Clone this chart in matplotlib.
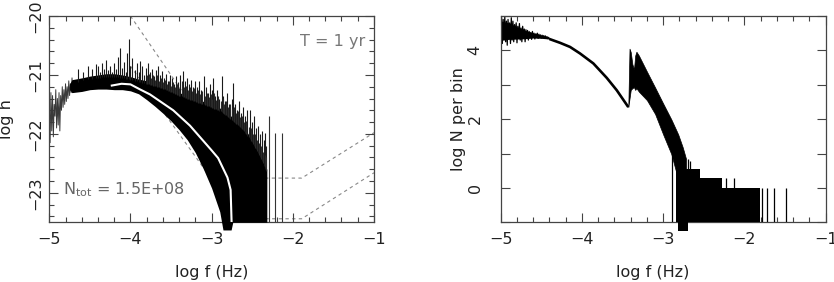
import numpy as np
import matplotlib
matplotlib.use("Agg")
import matplotlib.pyplot as plt
from matplotlib.ticker import MultipleLocator

# ---------------- left panel data: log h vs log f ----------------
zig_f = [-5.00, -4.99, -4.98, -4.97, -4.96, -4.95, -4.94, -4.93, -4.92, -4.91, -4.90,
         -4.89, -4.88, -4.87, -4.86, -4.85, -4.84, -4.83, -4.82, -4.81, -4.80, -4.79,
         -4.78, -4.77, -4.76, -4.75, -4.74, -4.73, -4.72, -4.71, -4.70]
zig_h = [-21.45, -22.15, -21.3, -21.95, -21.35, -22.05, -21.5, -21.7, -21.25, -21.9, -21.4,
         -21.85, -21.3, -21.95, -21.35, -21.6, -21.2, -21.55, -21.25, -21.5, -21.15, -21.45,
         -21.2, -21.4, -21.1, -21.35, -21.15, -21.3, -21.05, -21.3, -21.1]

band_f = [-4.75, -4.72, -4.6, -4.5, -4.4, -4.3, -4.2, -4.1, -4.0, -3.9, -3.8, -3.7, -3.6, -3.5,
          -3.4, -3.3, -3.2, -3.1, -3.0, -2.9, -2.86, -2.8, -2.76, -2.74, -2.6, -2.5, -2.4, -2.32]
band_lo = [-21.25, -21.3, -21.28, -21.25, -21.24, -21.24, -21.25, -21.25, -21.27, -21.32, -21.42,
           -21.53, -21.65, -21.78, -21.93, -22.10, -22.32, -22.6, -22.92, -23.32, -23.63,
           -23.63, -23.63, -23.5, -23.5, -23.5, -23.5, -23.5]
band_hi = [-21.15, -21.08, -21.05, -21.02, -21.0, -20.98, -20.98, -21.0, -21.03, -21.07, -21.1,
           -21.14, -21.18, -21.24, -21.3, -21.35, -21.4, -21.45, -21.5, -21.56, -21.6,
           -21.65, -21.7, -21.72, -21.9, -22.1, -22.35, -22.6]

spike_f = [-4.65, -4.58, -4.52, -4.47, -4.43,
           -4.40, -4.375, -4.35, -4.325, -4.30, -4.275, -4.25, -4.225, -4.20, -4.175,
           -4.15, -4.125, -4.10, -4.075, -4.05, -4.04, -4.015, -4.00, -3.975, -3.95,
           -3.925, -3.90, -3.883, -3.86, -3.835, -3.81, -3.785, -3.76, -3.735, -3.71,
           -3.685, -3.66, -3.635, -3.61, -3.585, -3.56, -3.535, -3.51, -3.49, -3.465,
           -3.44, -3.415, -3.39, -3.35, -3.325, -3.30, -3.275, -3.25, -3.225, -3.20,
           -3.175, -3.15, -3.125, -3.10, -3.075, -3.05, -3.025, -3.00, -2.98, -2.955,
           -2.93, -2.905, -2.877, -2.855, -2.83, -2.805, -2.78, -2.755, -2.734, -2.71,
           -2.685, -2.66, -2.635, -2.61, -2.585, -2.56, -2.53, -2.505, -2.48, -2.455,
           -2.43, -2.405, -2.38, -2.355, -2.34, -2.325]
spike_h = [-20.9, -20.95, -20.85, -20.9, -20.82,
           -20.85, -20.95, -20.80, -20.90, -20.74, -20.92, -20.85, -20.95, -20.80, -20.90,
           -20.70, -20.54, -20.88, -20.78, -20.95, -20.62, -20.39, -20.85, -20.72, -20.92,
           -20.80, -20.95, -20.76, -20.85, -21.0, -20.88, -20.80, -20.95, -20.90, -21.02,
           -20.92, -20.85, -21.0, -20.93, -21.05, -20.98, -21.1, -21.0, -21.05, -21.15,
           -21.02, -21.12, -21.0, -20.93, -21.1, -21.05, -21.15, -21.08, -21.2, -21.1,
           -21.2, -21.1, -21.25, -21.02, -21.2, -21.3, -21.15, -21.25, -21.05, -21.35,
           -21.25, -21.4, -21.02, -21.35, -21.45, -21.3, -21.5, -21.4, -21.13, -21.5,
           -21.6, -21.45, -21.65, -21.55, -21.7, -21.6, -21.59, -21.8, -21.7, -21.9,
           -21.87, -22.0, -21.95, -22.1, -21.98, -22.2]

spike2_f = [-3.80, -3.7725, -3.7475, -3.7225, -3.6975, -3.6725, -3.6475, -3.6225, -3.5975,
            -3.5725, -3.5475, -3.5225, -3.50, -3.4775, -3.4525, -3.4275, -3.40, -3.37,
            -3.3375, -3.3125, -3.2875, -3.2625, -3.2375, -3.2125, -3.1875, -3.1625,
            -3.1375, -3.1125, -3.0875, -3.0625, -3.0375, -3.0125, -2.99, -2.9675, -2.9425,
            -2.9175, -2.89, -2.866, -2.8425, -2.8175, -2.7925, -2.7675, -2.745, -2.72,
            -2.6975, -2.6725, -2.6475, -2.6225, -2.5975, -2.5725, -2.545, -2.5175,
            -2.4925, -2.4675, -2.4425, -2.4175, -2.3925, -2.3675, -2.347, -2.333]
spike2_h = [-21.0, -20.98, -21.05, -21.0, -21.08, -21.0, -21.1, -21.05, -21.12,
            -21.08, -21.15, -21.1, -21.18, -21.12, -21.2, -21.15, -21.22, -21.1,
            -21.2, -21.18, -21.25, -21.2, -21.28, -21.22, -21.3, -21.25,
            -21.32, -21.28, -21.35, -21.3, -21.38, -21.32, -21.4, -21.3, -21.42,
            -21.36, -21.45, -21.4, -21.5, -21.44, -21.55, -21.5, -21.58, -21.55,
            -21.65, -21.62, -21.72, -21.7, -21.8, -21.78, -21.88, -21.9,
            -22.0, -22.0, -22.1, -22.15, -22.2, -22.3, -22.35, -22.4]

lone_f = [-2.29, -2.22, -2.13]
lone_h = [-21.7, -21.98, -21.98]

mean_f = [-4.23, -4.11, -4.0, -3.883, -3.76, -3.473, -3.267, -3.0, -2.92, -2.805, -2.766, -2.754]
mean_h = [-21.18, -21.15, -21.16, -21.245, -21.33, -21.6, -21.86, -22.28, -22.41, -22.74, -22.95, -23.5]

sens1_f = [-4.0, -2.63, -1.89, -1.0]
sens1_h = [-20.0, -22.75, -22.75, -21.98]
sens2_f = [-4.0, -2.65, -1.89, -1.0]
sens2_h = [-20.85, -23.44, -23.44, -22.66]

# ---------------- right panel data: log N per bin vs log f ----------------
nz_f = [-5.00, -4.99, -4.98, -4.97, -4.96, -4.95, -4.94, -4.93, -4.92, -4.91, -4.90,
        -4.89, -4.88, -4.87, -4.86, -4.85, -4.84, -4.83, -4.82, -4.81, -4.80, -4.79,
        -4.78, -4.77, -4.76, -4.75, -4.74, -4.73, -4.72, -4.71, -4.70, -4.69, -4.68,
        -4.67, -4.66, -4.65, -4.64, -4.63, -4.62, -4.61, -4.60, -4.59, -4.58, -4.57,
        -4.56, -4.55, -4.54, -4.53, -4.52, -4.51, -4.50, -4.49, -4.48, -4.47, -4.46,
        -4.45, -4.44, -4.43, -4.42, -4.41, -4.40]
nz_n = [4.1, 4.95, 4.2, 4.9, 4.3, 4.98, 4.25, 4.85, 4.15, 4.9, 4.35,
        4.8, 4.2, 4.95, 4.3, 4.85, 4.25, 4.75, 4.4, 4.8, 4.22, 4.7,
        4.35, 4.78, 4.3, 4.65, 4.25, 4.7, 4.4, 4.62, 4.25, 4.6, 4.35,
        4.58, 4.3, 4.55, 4.4, 4.52, 4.32, 4.55, 4.38, 4.5, 4.33, 4.48,
        4.4, 4.5, 4.35, 4.47, 4.38, 4.45, 4.36, 4.44, 4.37, 4.43, 4.35,
        4.42, 4.36, 4.4, 4.34, 4.38, 4.33]
core_f = [-5.0, -4.9, -4.8, -4.7, -4.6, -4.5, -4.4]
core_lo = [4.3, 4.32, 4.33, 4.34, 4.36, 4.35, 4.33]
core_hi = [4.85, 4.8, 4.68, 4.58, 4.5, 4.43, 4.36]

sm_f = [-4.40, -4.27, -4.147, -4.024, -3.86, -3.695, -3.572, -3.45, -3.43]
sm_n = [4.33, 4.22, 4.10, 3.91, 3.62, 3.2, 2.84, 2.42, 2.35]

nb_f = [-3.43, -3.415, -3.40, -3.38, -3.36, -3.345, -3.33, -3.30, -3.20, -3.10, -3.00,
        -2.90, -2.834, -2.815, -2.76, -2.72]
nb_hi = [2.35, 4.05, 3.95, 3.6, 3.45, 3.85, 3.96, 3.85, 3.38, 2.92, 2.45,
         1.99, 1.65, 1.55, 1.18, 0.85]
nb_lo = [2.35, 2.6, 2.85, 2.9, 2.93, 2.85, 2.9, 2.8, 2.55, 2.15, 1.55,
         0.98, 0.40, -0.18, -0.5, -0.5]

floor_f = [-2.84, -2.65, -2.55, -2.28, -1.81]
floor_top = [0.55, 0.55, 0.30, 0.0, 0.0]
deep_f = [-2.814, -2.69]
deep_bottom = [-1.25, -1.25]

nl_f = [-2.888, -2.69, -2.675, -2.227, -2.13, -1.79, -1.726, -1.636, -1.49]
nl_top = [1.0, 0.85, 0.78, 0.30, 0.30, 0.0, 0.0, 0.0, 0.0]

# ---------------- figure ----------------
plt.rcParams["font.family"] = ["DejaVu Sans"]
FS = 11.5
TXT = "#222222"
SP = "#444444"

fig = plt.figure(figsize=(8.34, 2.82), dpi=100)
axL = fig.add_axes([0.0591, 0.2117, 0.3893, 0.7316])
axR = fig.add_axes([0.6004, 0.2117, 0.3897, 0.7316])


def style(ax, ypad):
    for s in ax.spines.values():
        s.set_color(SP)
        s.set_linewidth(0.9)
    ax.tick_params(which="both", direction="in", top=True, right=True, color=SP, width=0.8)
    ax.tick_params(which="major", length=6.5)
    ax.tick_params(which="minor", length=3.4)
    ax.tick_params(axis="x", labelsize=FS, pad=7, labelcolor=TXT)
    ax.tick_params(axis="y", labelsize=FS, pad=ypad, labelcolor=TXT)
    ax.xaxis.set_major_locator(MultipleLocator(1))
    ax.xaxis.set_minor_locator(MultipleLocator(0.2))
    for lab in ax.get_yticklabels():
        lab.set_rotation(90)
        lab.set_va("center")


# ---- left ----
axL.plot(sens1_f, sens1_h, color="#888888", lw=0.8, ls=(0, (3, 3)), zorder=1)
axL.plot(sens2_f, sens2_h, color="#888888", lw=0.8, ls=(0, (3, 3)), zorder=1)
axL.plot(zig_f, zig_h, color="#3a3a3a", lw=0.7, zorder=2)
axL.fill_between(band_f, band_lo, band_hi, color="black", lw=0, zorder=3, clip_on=False)
sb = np.interp(spike_f, band_f, band_hi) - 0.05
axL.vlines(spike_f, sb, spike_h, color="#1a1a1a", lw=0.8, zorder=3)
sb2 = np.interp(spike2_f, band_f, band_hi) - 0.05
axL.vlines(spike2_f, sb2, spike2_h, color="#2a2a2a", lw=0.8, zorder=3)
axL.vlines(lone_f, -23.5, lone_h, color="#333333", lw=0.8, zorder=3)
axL.plot(mean_f, mean_h, color="white", lw=1.5, zorder=4)
axL.set_xlim(-5, -1)
axL.set_ylim(-23.5, -20)
axL.yaxis.set_major_locator(MultipleLocator(1))
axL.yaxis.set_minor_locator(MultipleLocator(0.2))
style(axL, 4)
axL.text(0.972, 0.874, "T = 1 yr", transform=axL.transAxes, ha="right", va="center",
         fontsize=FS, color="#777777")
axL.text(0.042, 0.157, r"N$_{\rm tot}$ = 1.5E+08", transform=axL.transAxes, ha="left",
         va="center", fontsize=FS, color="#666666")

# ---- right ----
axR.fill_between(core_f, core_lo, core_hi, color="black", lw=0, zorder=2)
axR.plot(nz_f, nz_n, color="black", lw=0.9, zorder=2)
axR.plot(sm_f, sm_n, color="black", lw=1.9, zorder=2, solid_capstyle="butt")
axR.fill_between(nb_f, nb_lo, nb_hi, color="black", lw=0.5, zorder=3)
axR.fill_between(floor_f, -1, floor_top, step="post", color="black", lw=0, zorder=3)
axR.fill_between(deep_f, deep_bottom, -1, color="black", lw=0, zorder=3, clip_on=False)
axR.vlines(nl_f, -1, nl_top, color="black", lw=0.9, zorder=3)
axR.set_xlim(-5, -1)
axR.set_ylim(-1, 5)
axR.yaxis.set_major_locator(MultipleLocator(2))
axR.yaxis.set_minor_locator(MultipleLocator(1))
style(axR, 13)
axR.tick_params(axis="y", which="minor", length=6.5)

# ---- axis labels ----
fig.text(212 / 834, 1 - 273 / 282, "log f (Hz)", ha="center", va="center", fontsize=FS, color=TXT)
fig.text(653 / 834, 1 - 273 / 282, "log f (Hz)", ha="center", va="center", fontsize=FS, color=TXT)
fig.text(7 / 834, 1 - 119 / 282, "log h", ha="center", va="center", rotation=90, fontsize=FS, color=TXT)
fig.text(459 / 834, 1 - 119 / 282, "log N per bin", ha="center", va="center", rotation=90,
         fontsize=FS, color=TXT)

fig.savefig("out.png", dpi=100, facecolor="white")
